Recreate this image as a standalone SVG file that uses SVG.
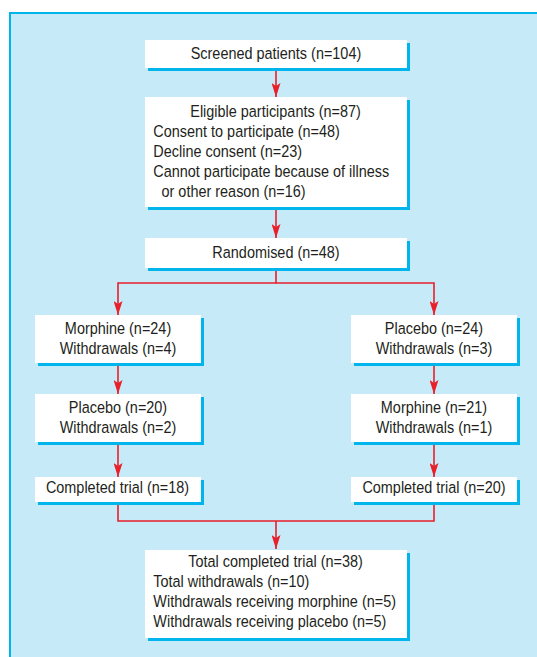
<svg xmlns="http://www.w3.org/2000/svg" width="537" height="657" viewBox="0 0 537 657">
<style>
.box{fill:#ffffff}
.sh{fill:#00b4ec}
.t{font-family:"Liberation Sans",Arial,sans-serif;font-size:16.5px;fill:#231f20}
.c{text-anchor:middle}
.ln{fill:none;stroke:#e8202a;stroke-width:1.6}
</style>
<defs>
<marker id="ah" markerUnits="userSpaceOnUse" markerWidth="14" markerHeight="9" viewBox="0 0 14 9" refX="14" refY="4.5" orient="auto">
<path d="M0,0 L14,4.5 L0,9 L3,4.5 Z" fill="#e8202a"/>
</marker>
</defs>
<rect x="9" y="12" width="528" height="645" fill="#00b4ec"/>
<rect x="11" y="14" width="526" height="643" fill="#c7eaf9"/>

<g id="connectors">
<line class="ln" x1="276" y1="71" x2="276" y2="97" marker-end="url(#ah)"/>
<line class="ln" x1="276" y1="210" x2="276" y2="238" marker-end="url(#ah)"/>
<polyline class="ln" points="276,271 276,283 118,283 118,315" marker-end="url(#ah)"/>
<polyline class="ln" points="276,283 434,283 434,315" marker-end="url(#ah)"/>
<line class="ln" x1="118" y1="366" x2="118" y2="394" marker-end="url(#ah)"/>
<line class="ln" x1="434" y1="366" x2="434" y2="394" marker-end="url(#ah)"/>
<line class="ln" x1="118" y1="445" x2="118" y2="477" marker-end="url(#ah)"/>
<line class="ln" x1="434" y1="445" x2="434" y2="477" marker-end="url(#ah)"/>
<polyline class="ln" points="118,505 118,521 434,521 434,505"/>
<line class="ln" x1="276" y1="521" x2="276" y2="549" marker-end="url(#ah)"/>
</g>

<g id="screened">
<rect class="sh" x="148" y="43" width="262" height="28"/>
<rect class="box" x="145" y="40" width="262" height="28"/>
<g transform="scale(0.875 1)"><text class="t c" x="315.4" y="59.5">Screened patients (n=104)</text></g>
</g>

<g id="eligible">
<rect class="sh" x="148" y="100" width="262" height="110"/>
<rect class="box" x="145" y="97" width="262" height="110"/>
<g transform="scale(0.875 1)">
<text class="t c" x="314.9" y="116.7">Eligible participants (n=87)</text>
<text class="t" x="175.2" y="136.7">Consent to participate (n=48)</text>
<text class="t" x="175.2" y="156.7">Decline consent (n=23)</text>
<text class="t" x="175.2" y="176.7">Cannot participate because of illness</text>
<text class="t" x="184.6" y="196.7">or other reason (n=16)</text>
</g>
</g>

<g id="randomised">
<rect class="sh" x="148" y="241" width="262" height="30"/>
<rect class="box" x="145" y="238" width="262" height="30"/>
<g transform="scale(0.875 1)"><text class="t c" x="315.4" y="258.5">Randomised (n=48)</text></g>
</g>

<g id="morphine1">
<rect class="sh" x="38" y="318" width="166" height="48"/>
<rect class="box" x="35" y="315" width="166" height="48"/>
<g transform="scale(0.875 1)">
<text class="t c" x="134.9" y="334.5">Morphine (n=24)</text>
<text class="t c" x="134.9" y="354.5">Withdrawals (n=4)</text>
</g>
</g>

<g id="placebo1">
<rect class="sh" x="354" y="318" width="166" height="48"/>
<rect class="box" x="351" y="315" width="166" height="48"/>
<g transform="scale(0.875 1)">
<text class="t c" x="496" y="334.5">Placebo (n=24)</text>
<text class="t c" x="496" y="354.5">Withdrawals (n=3)</text>
</g>
</g>

<g id="placebo2">
<rect class="sh" x="38" y="397" width="166" height="48"/>
<rect class="box" x="35" y="394" width="166" height="48"/>
<g transform="scale(0.875 1)">
<text class="t c" x="134.9" y="413">Placebo (n=20)</text>
<text class="t c" x="134.9" y="433">Withdrawals (n=2)</text>
</g>
</g>

<g id="morphine2">
<rect class="sh" x="354" y="397" width="166" height="48"/>
<rect class="box" x="351" y="394" width="166" height="48"/>
<g transform="scale(0.875 1)">
<text class="t c" x="496" y="413">Morphine (n=21)</text>
<text class="t c" x="496" y="433">Withdrawals (n=1)</text>
</g>
</g>

<g id="completed1">
<rect class="sh" x="38" y="480" width="166" height="25"/>
<rect class="box" x="35" y="477" width="166" height="25"/>
<g transform="scale(0.875 1)"><text class="t c" x="134.3" y="493.5">Completed trial (n=18)</text></g>
</g>

<g id="completed2">
<rect class="sh" x="354" y="480" width="166" height="25"/>
<rect class="box" x="351" y="477" width="166" height="25"/>
<g transform="scale(0.875 1)"><text class="t c" x="496" y="493.5">Completed trial (n=20)</text></g>
</g>

<g id="total">
<rect class="sh" x="148" y="553" width="262" height="88"/>
<rect class="box" x="145" y="550" width="262" height="88"/>
<g transform="scale(0.875 1)">
<text class="t c" x="314.9" y="567.3">Total completed trial (n=38)</text>
<text class="t" x="175.2" y="587.3">Total withdrawals (n=10)</text>
<text class="t" x="175.2" y="607.3">Withdrawals receiving morphine (n=5)</text>
<text class="t" x="175.2" y="627.3">Withdrawals receiving placebo (n=5)</text>
</g>
</g>
</svg>
